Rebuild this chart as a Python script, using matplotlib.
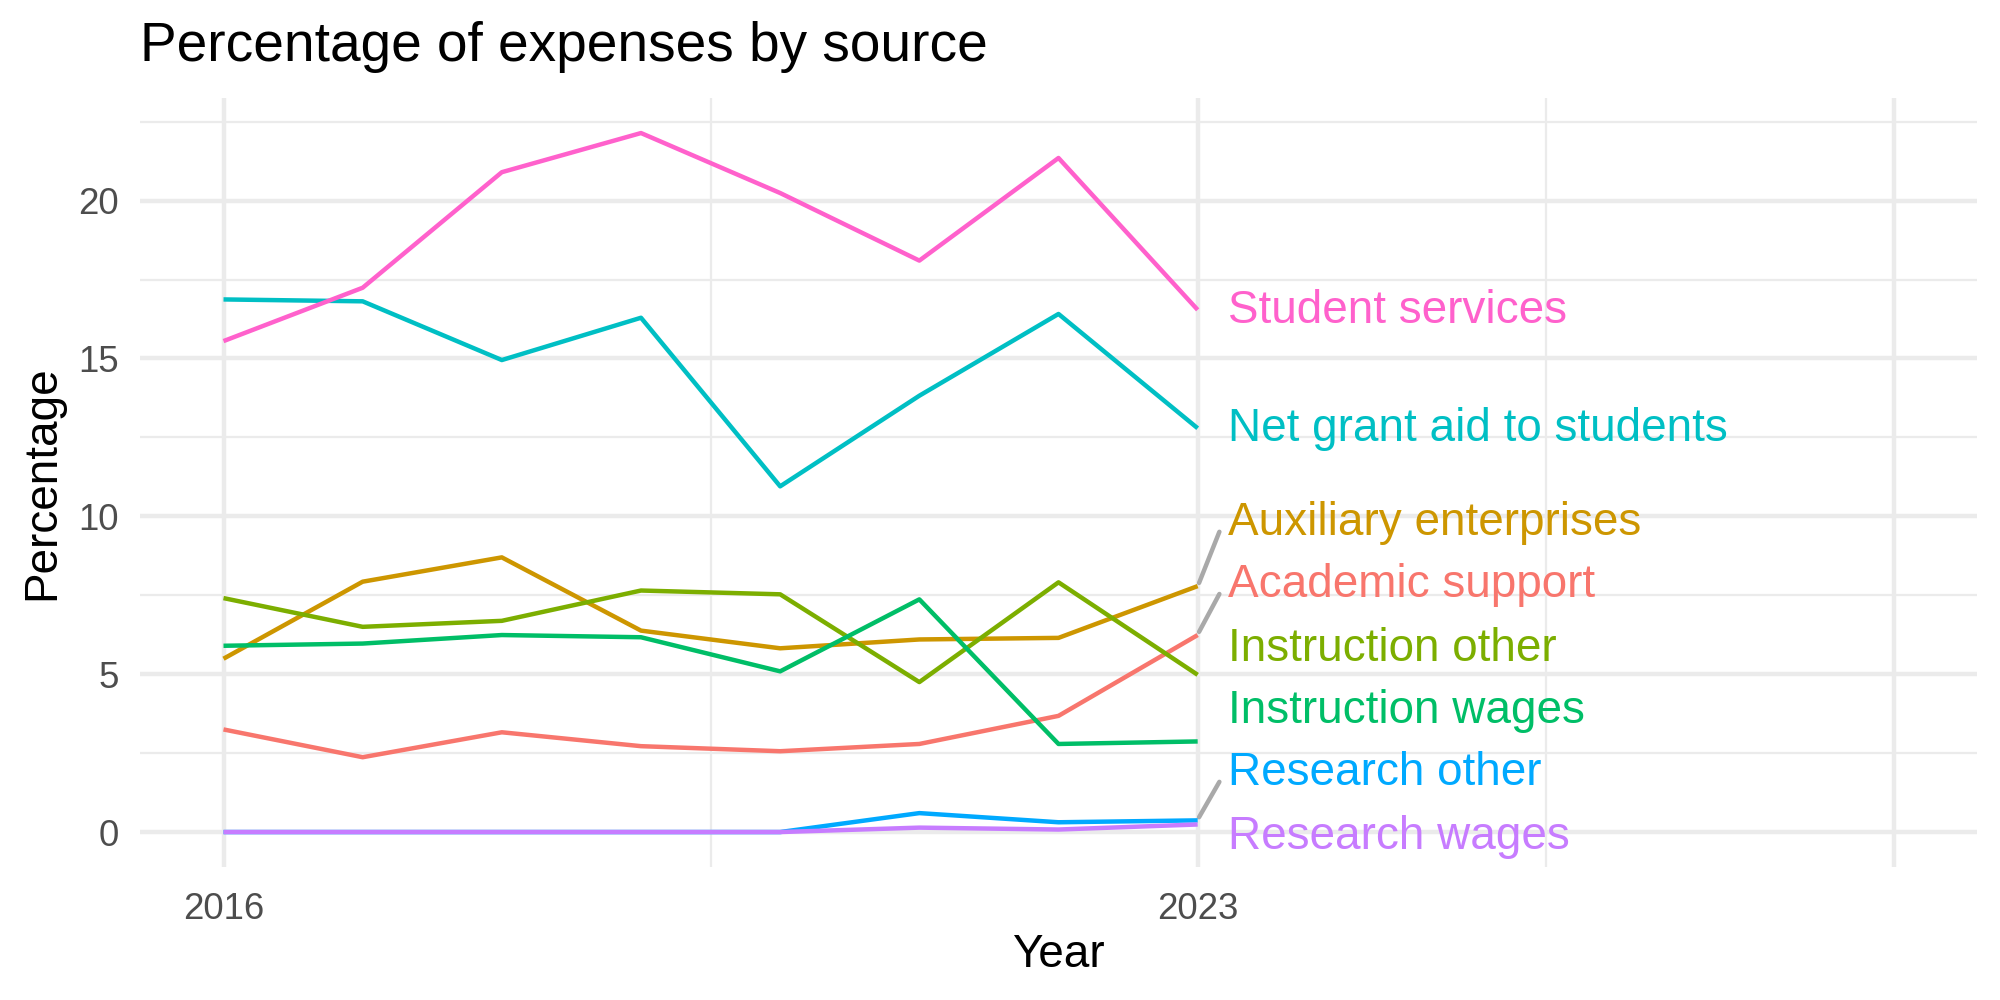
import matplotlib
matplotlib.use("Agg")
import matplotlib.pyplot as plt
from matplotlib import font_manager

years = [2016, 2017, 2018, 2019, 2020, 2021, 2022, 2023]

categories = [
    "Academic support",
    "Auxiliary enterprises",
    "Instruction other",
    "Instruction wages",
    "Net grant aid to students",
    "Research other",
    "Research wages",
    "Student services",
]

academic_support = [3.25, 2.37, 3.16, 2.72, 2.56, 2.79, 3.68, 6.24]
auxiliary_enterprises = [5.49, 7.93, 8.70, 6.38, 5.82, 6.10, 6.15, 7.79]
instruction_other = [7.41, 6.50, 6.69, 7.65, 7.53, 4.75, 7.91, 4.98]
instruction_wages = [5.90, 5.97, 6.24, 6.17, 5.09, 7.37, 2.79, 2.87]
net_grant_aid = [16.87, 16.81, 14.95, 16.29, 10.95, 13.82, 16.41, 12.79]
research_other = [0.0, 0.0, 0.0, 0.0, 0.0, 0.60, 0.31, 0.37]
research_wages = [0.0, 0.0, 0.0, 0.0, 0.0, 0.14, 0.08, 0.24]
student_services = [15.55, 17.24, 20.90, 22.14, 20.24, 18.10, 21.35, 16.54]

series = [academic_support, auxiliary_enterprises, instruction_other,
          instruction_wages, net_grant_aid, research_other, research_wages,
          student_services]

colors = ["#F8766D", "#CD9600", "#7CAE00", "#00BE67",
          "#00BFC4", "#00A9FF", "#C77CFF", "#FF61CC"]

# repelled label positions (y, data units)
label_y = [7.82, 9.79, 5.81, 3.84, 12.77, 1.87, -0.15, 16.5]
has_segment = [True, True, False, False, False, True, False, False]

x_major = [2016, 2023, 2028]
x_major_labels = ["2016", "2023", ""]
x_minor = [2019.5, 2025.5]
y_major = [0, 5, 10, 15, 20]
y_minor = [2.5, 7.5, 12.5, 17.5, 22.5]

plt.rcParams["font.family"] = ["Liberation Sans", "DejaVu Sans"]

names = {f.name for f in font_manager.fontManager.ttflist}
if "Liberation Sans Narrow" in names:
    label_family = ["Liberation Sans Narrow", "Liberation Sans", "DejaVu Sans"]
    label_size = 13.3
else:
    label_family = ["Liberation Sans", "DejaVu Sans"]
    label_size = 11.0

fig = plt.figure(figsize=(20 / 3, 10 / 3), dpi=300)
ax = fig.add_axes([0.07, 0.133, 0.9185, 0.769])

lw = 1.07
for s in ["top", "right", "bottom", "left"]:
    ax.spines[s].set_visible(False)

ax.set_xlim(2015.4, 2028.6)
ax.set_ylim(-1.107, 23.25)
ax.set_xticks(x_major)
ax.set_xticklabels(x_major_labels)
ax.set_xticks(x_minor, minor=True)
ax.set_yticks(y_major)
ax.set_yticks(y_minor, minor=True)
ax.grid(which="major", color="#EBEBEB", linewidth=lw)
ax.grid(which="minor", color="#EBEBEB", linewidth=lw / 2)
ax.set_axisbelow(True)
ax.tick_params(which="both", length=0)
ax.tick_params(axis="x", pad=6, labelsize=8.8, labelcolor="#4D4D4D")
ax.tick_params(axis="y", pad=5, labelsize=8.8, labelcolor="#4D4D4D")

for vals, col in zip(series, colors):
    ax.plot(years, vals, color=col, linewidth=lw, solid_capstyle="butt", zorder=3)

x_end = years[-1]
for name, vals, col, ly, seg in zip(categories, series, colors, label_y, has_segment):
    if seg:
        ax.plot([x_end + 0.01, x_end + 0.156], [vals[-1] + 0.1, ly - 0.28],
                color="#A9A9A9", linewidth=lw, zorder=2, solid_capstyle="round")
    ax.text(x_end + 0.22, ly, name, color=col, fontsize=label_size,
            family=label_family, ha="left", va="center", zorder=4)

ax.set_xlabel("Year", fontsize=11, labelpad=1.5)
ax.set_ylabel("Percentage", fontsize=11, labelpad=3.5)

fig.text(0.07, 0.939, "Percentage of expenses by source", fontsize=13.2,
         ha="left", va="baseline")

fig.savefig("out.png", dpi=300, facecolor="white")
